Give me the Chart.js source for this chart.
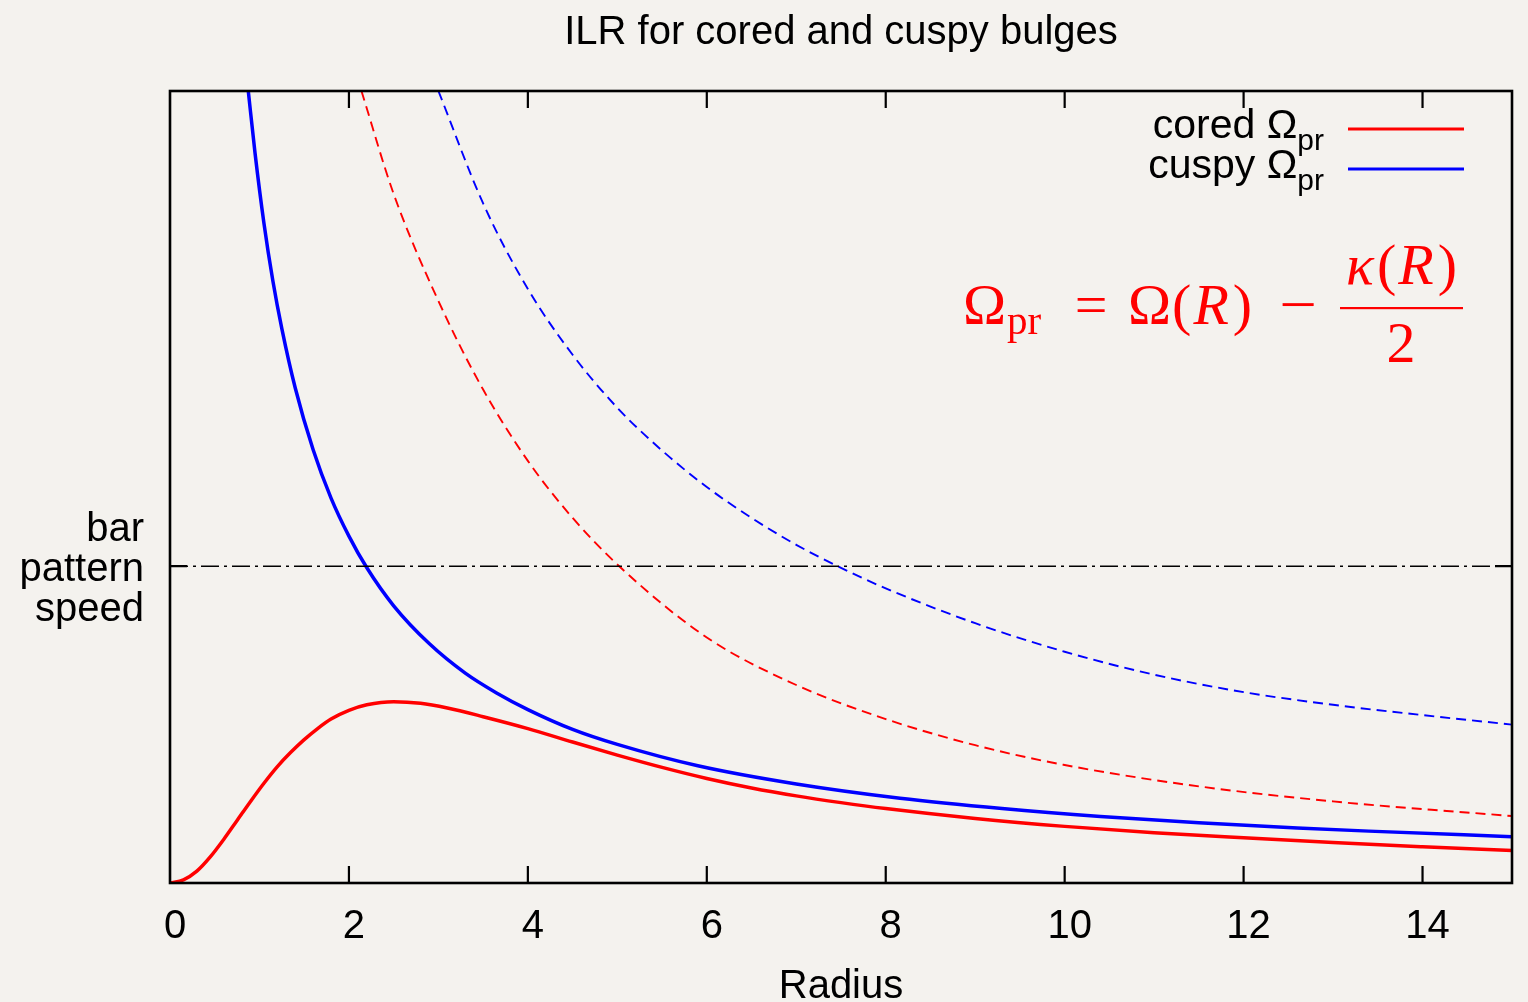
<!DOCTYPE html>
<html>
<head>
<meta charset="utf-8">
<title>ILR for cored and cuspy bulges</title>
<script src="https://cdn.jsdelivr.net/npm/chart.js@4.4.1/dist/chart.umd.min.js"></script>
<style>
  html, body { margin: 0; padding: 0; background: #f4f2ee; }
  #wrap { width: 1528px; height: 1002px; }
  canvas { display: block; }
</style>
</head>
<body>
<div id="wrap"><canvas id="ilr" width="1528" height="1002"></canvas></div>
<script>
// ---- data (radius in plot units, pattern speed in arbitrary units 0..100) ----
const radiusTicks = [0, 2, 4, 6, 8, 10, 12, 14];
const barPatternSpeed = 40;
const barLabel = ['bar', 'pattern', 'speed'];
const seriesNames = ['cored', 'cuspy'];

// cored bulge, Omega - kappa/2 (solid red)
const coredR     = [0, 0.15, 0.30, 0.45, 0.60, 0.75, 0.90, 1.05, 1.20, 1.35, 1.50, 1.65, 1.80, 2.00, 2.20, 2.50, 2.80, 3.10, 3.50, 4.00, 4.50, 5.00, 5.50, 6.00, 6.50, 7.00, 7.50, 8.00, 9.00, 10.0, 11.0, 12.0, 13.0, 14.0, 15.0];
const coredPr    = [0, 0.4, 1.5, 3.3, 5.5, 7.9, 10.3, 12.6, 14.7, 16.5, 18.1, 19.5, 20.7, 21.8, 22.5, 22.9, 22.7, 22.1, 21.0, 19.5, 17.8, 16.15, 14.6, 13.2, 12.0, 11.0, 10.15, 9.4, 8.15, 7.15, 6.35, 5.7, 5.1, 4.58, 4.1];

// cuspy bulge, Omega - kappa/2 (solid blue)
const cuspyR     = [0.875, 0.95, 1.05, 1.15, 1.25, 1.40, 1.60, 1.80, 2.00, 2.20, 2.50, 2.90, 3.30, 3.65, 4.00, 4.50, 5.00, 5.90, 7.00, 8.16, 9.30, 10.4, 11.5, 12.6, 13.4, 15.0];
const cuspyPr    = [100, 92.2, 83.3, 76.0, 70.0, 62.5, 54.7, 48.6, 43.8, 39.8, 35.0, 30.2, 26.5, 24.0, 21.9, 19.4, 17.5, 14.8, 12.5, 10.7, 9.4, 8.4, 7.6, 6.95, 6.55, 5.85];

// cored bulge, dashed red companion curve
const coredDashR = [2.14, 2.50, 3.00, 3.50, 4.00, 4.50, 5.03, 6.00, 7.00, 8.00, 9.00, 10.0, 11.5, 13.0, 15.0];
const coredDash  = [100, 87.0, 73.5, 62.3, 53.3, 46.1, 39.9, 31.0, 25.0, 20.7, 17.4, 14.9, 12.2, 10.3, 8.45];

// cuspy bulge, dashed blue companion curve
const cuspyDashR = [3.0, 3.5, 4.0, 4.5, 5.0, 5.5, 6.0, 6.5, 7.0, 7.5, 8.0, 9.0, 10.0, 11.0, 12.0, 13.0, 14.0, 15.0];
const cuspyDash  = [100, 85.8, 75.0, 66.7, 60.0, 54.6, 50.0, 46.1, 42.7, 39.8, 37.2, 32.8, 29.2, 26.3, 24.1, 22.5, 21.2, 20.0];

const pts = (xs, ys) => xs.map((x, i) => ({ x, y: ys[i] }));

const SANS = '"Liberation Sans", Arial, Helvetica, sans-serif';
const SERIF = '"Liberation Serif", "Times New Roman", serif';
const RED = '#ff0000';
const BLUE = '#0000ff';

// frame with inward tics, legend with subscripts and the red formula
const frameAndNotes = {
  id: 'frameAndNotes',
  afterDatasetsDraw(chart) {
    const { ctx, chartArea: { left, right, top, bottom }, scales: { x, y } } = chart;
    ctx.save();

    // border
    ctx.strokeStyle = '#000';
    ctx.lineWidth = 2.6;
    ctx.strokeRect(left, top, right - left, bottom - top);

    // inward tic marks
    ctx.lineWidth = 2.2;
    ctx.beginPath();
    radiusTicks.forEach(v => {
      if (v === 0) return;
      const px = x.getPixelForValue(v);
      ctx.moveTo(px, bottom); ctx.lineTo(px, bottom - 17);
      ctx.moveTo(px, top);    ctx.lineTo(px, top + 17);
    });
    const py = y.getPixelForValue(barPatternSpeed);
    ctx.moveTo(left, py);  ctx.lineTo(left + 17, py);
    ctx.moveTo(right, py); ctx.lineTo(right - 17, py);
    ctx.stroke();

    // legend: "cored Ω_pr" / "cuspy Ω_pr" with line samples
    const colors = [RED, BLUE];
    ctx.fillStyle = '#000';
    ctx.textBaseline = 'alphabetic';
    ctx.textAlign = 'left';
    seriesNames.forEach((name, i) => {
      const base = 138 + i * 40;
      ctx.font = `30px ${SANS}`;
      const subW = ctx.measureText('pr').width;
      ctx.font = `41px ${SANS}`;
      const main = name + ' \u03A9';
      const mainW = ctx.measureText(main).width;
      const textRight = 1324;
      ctx.fillText(main, textRight - subW - mainW, base);
      ctx.font = `30px ${SANS}`;
      ctx.fillText('pr', textRight - subW, base + 12);
      ctx.strokeStyle = colors[i];
      ctx.lineWidth = 3;
      ctx.beginPath();
      ctx.moveTo(1348, base - 9);
      ctx.lineTo(1464, base - 9);
      ctx.stroke();
    });

    // formula: Ω_pr = Ω(R) − κ(R)/2
    ctx.fillStyle = RED;
    const F = 58;
    const big = `${F}px ${SERIF}`, it = `italic ${F}px ${SERIF}`, sub = `41px ${SERIF}`;
    const w = (t, font) => { ctx.font = font; return ctx.measureText(t).width; };
    const put = (t, font, px, by, align = 'left') => {
      ctx.font = font; ctx.textAlign = align; ctx.fillText(t, px, by);
    };
    // left-hand side
    put('\u03A9', big, 963, 324);
    put('pr', sub, 963 + w('\u03A9', big) + 1, 334);
    put('=', big, 1091, 324, 'center');
    // Ω(R)
    let cx = 1128;
    put('\u03A9', big, cx, 324); cx += w('\u03A9', big) + 1;
    put('(', big, cx, 324);      cx += w('(', big) + 2;
    put('R', it, cx, 324);       cx += w('R', it) + 4;
    put(')', big, cx, 324);
    // minus sign, stretched to the wide math minus
    ctx.save();
    ctx.translate(1298, 324);
    ctx.scale(1.15, 1);
    put('\u2212', big, 0, 0, 'center');
    ctx.restore();
    // fraction κ(R) / 2
    ctx.fillRect(1340, 307, 123, 2.2);
    const numParts = [['\u03BA', it, 3], ['(', big, 2], ['R', it, 4], [')', big, 0]];
    const numW = numParts.reduce((s, [t, f, g]) => s + w(t, f) + g, 0);
    let nx = 1401.5 - numW / 2;
    numParts.forEach(([t, f, g]) => { put(t, f, nx, 284); nx += w(t, f) + g; });
    put('2', big, 1401, 362, 'center');

    ctx.restore();
  }
};

new Chart(document.getElementById('ilr'), {
  type: 'line',
  data: {
    datasets: [
      {
        label: 'bar pattern speed',
        data: [{ x: 0, y: barPatternSpeed }, { x: 15, y: barPatternSpeed }],
        borderColor: '#000', borderWidth: 1.6, borderDash: [18, 5, 3, 5],
        pointRadius: 0, tension: 0
      },
      {
        label: 'cored dashed',
        data: pts(coredDashR, coredDash),
        borderColor: RED, borderWidth: 1.9, borderDash: [10, 6],
        pointRadius: 0, cubicInterpolationMode: 'monotone'
      },
      {
        label: 'cuspy dashed',
        data: pts(cuspyDashR, cuspyDash),
        borderColor: BLUE, borderWidth: 1.9, borderDash: [10, 6],
        pointRadius: 0, cubicInterpolationMode: 'monotone'
      },
      {
        label: 'cored',
        data: pts(coredR, coredPr),
        borderColor: RED, borderWidth: 3.5,
        pointRadius: 0, cubicInterpolationMode: 'monotone'
      },
      {
        label: 'cuspy',
        data: pts(cuspyR, cuspyPr),
        borderColor: BLUE, borderWidth: 3.5,
        pointRadius: 0, cubicInterpolationMode: 'monotone'
      }
    ]
  },
  options: {
    responsive: false,
    animation: false,
    devicePixelRatio: 1,
    layout: { padding: { top: 0, left: 0, right: 16, bottom: 0 } },
    plugins: {
      legend: { display: false },
      tooltip: { enabled: false },
      title: {
        display: true,
        text: 'ILR for cored and cuspy bulges',
        fullSize: false,
        color: '#000',
        font: { family: SANS, size: 40, weight: 'normal', lineHeight: 1 },
        padding: { top: 13, bottom: 38 }
      }
    },
    scales: {
      x: {
        type: 'linear',
        min: 0, max: 15,
        afterBuildTicks: s => { s.ticks = radiusTicks.map(v => ({ value: v })); },
        afterFit: s => { s.height = 119; },
        grid: { display: false, drawTicks: false },
        border: { display: false },
        ticks: {
          color: '#000', padding: 24, labelOffset: 5, maxRotation: 0,
          font: { family: SANS, size: 40, lineHeight: 1 }
        },
        title: {
          display: true, text: 'Radius', color: '#000', padding: 0,
          font: { family: SANS, size: 40, lineHeight: 0.75 }
        }
      },
      y: {
        type: 'linear',
        min: 0, max: 100,
        afterBuildTicks: s => { s.ticks = [{ value: barPatternSpeed }]; },
        afterFit: s => { s.width = 170; },
        grid: { display: false, drawTicks: false },
        border: { display: false },
        ticks: {
          color: '#000', padding: 26, labelOffset: 4,
          callback: () => barLabel,
          font: { family: SANS, size: 40, lineHeight: 1 }
        }
      }
    }
  },
  plugins: [frameAndNotes]
});
</script>
</body>
</html>
